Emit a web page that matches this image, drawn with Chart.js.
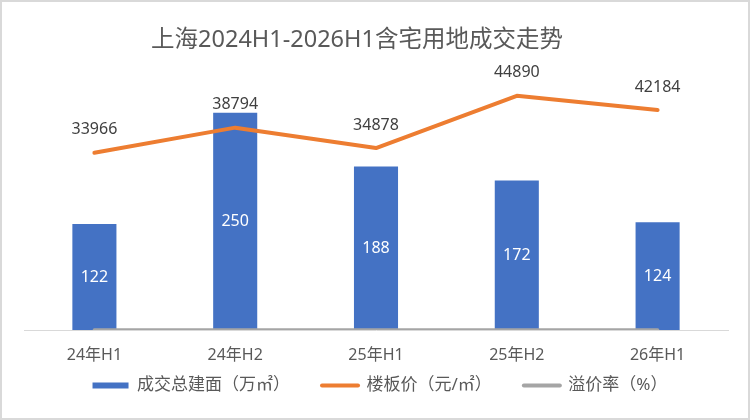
<!DOCTYPE html>
<html>
<head>
<meta charset="utf-8">
<script src="https://cdn.jsdelivr.net/npm/chart.js@4/dist/chart.umd.min.js"></script>
<style>
  html, body { margin: 0; padding: 0; background: #ffffff; }
  #wrap { width: 752px; height: 420px; }
</style>
</head>
<body>
<div id="wrap"><canvas id="c" width="752" height="420"></canvas></div>
<script>
const categories = ['24年H1', '24年H2', '25年H1', '25年H2', '26年H1'];
const areaValues = [122, 250, 188, 172, 124];          // 成交总建面（万㎡）
const priceValues = [33966, 38794, 34878, 44890, 42184]; // 楼板价（元/㎡）
const premiumValues = [4.5, 9.8, 22.1, 18.6, 12.3];      // 溢价率（%）
const seriesNames = ['成交总建面（万㎡）', '楼板价（元/㎡）', '溢价率（%）'];
const titleText = '上海2024H1-2026H1含宅用地成交走势';

const FONT = "'Noto Sans', 'Noto Sans CJK SC', sans-serif";
Chart.defaults.font.family = FONT;
Chart.defaults.color = '#595959';

const LEGEND_FIT_HEIGHT = 34;
const LEGEND_SHIFT = 35;

const labelPlugin = {
  id: 'valueLabels',
  afterDatasetsDraw(chart) {
    const ctx = chart.ctx;
    ctx.save();
    ctx.font = "16px " + FONT;
    ctx.textAlign = 'center';
    ctx.textBaseline = 'middle';
    const barMeta = chart.getDatasetMeta(0);
    barMeta.data.forEach((el, i) => {
      ctx.fillStyle = '#ffffff';
      ctx.fillText(String(areaValues[i]), el.x, (el.y + el.base) / 2);
    });
    const lineMeta = chart.getDatasetMeta(1);
    lineMeta.data.forEach((el, i) => {
      ctx.fillStyle = '#404040';
      ctx.fillText(String(priceValues[i]), el.x, el.y - 23);
    });
    ctx.restore();
  }
};

const framePlugin = {
  id: 'frame',
  beforeLayout(chart) {
    const lg = chart.legend;
    if (lg && !lg._fitWrapped) {
      const origFit = lg.fit;
      lg.fit = function () { origFit.call(this); this.height = LEGEND_FIT_HEIGHT; };
      lg._fitWrapped = true;
    }
  },
  afterLayout(chart) {
    const t = chart.titleBlock;
    if (t) { t.right -= 38; t.width -= 38; }
    const lg = chart.legend;
    if (lg) { lg.top -= LEGEND_SHIFT; lg.height += LEGEND_SHIFT; lg.left += 4; lg.right += 4; }
  },
  afterDraw(chart) {
    const ctx = chart.ctx;
    ctx.save();
    ctx.strokeStyle = '#d9d9d9';
    ctx.lineWidth = 2;
    ctx.strokeRect(1, 1, 748, 418);
    ctx.restore();
  }
};

new Chart(document.getElementById('c'), {
  data: {
    labels: categories,
    datasets: [
      {
        type: 'bar',
        label: seriesNames[0],
        data: areaValues,
        backgroundColor: '#4472C4',
        yAxisID: 'y',
        order: 3,
        barPercentage: 0.313,
        categoryPercentage: 1
      },
      {
        type: 'line',
        label: seriesNames[1],
        data: priceValues,
        borderColor: '#ED7D31',
        backgroundColor: '#ED7D31',
        borderWidth: 4,
        pointRadius: 0,
        tension: 0,
        borderCapStyle: 'round',
        borderJoinStyle: 'round',
        yAxisID: 'y1',
        order: 1
      },
      {
        type: 'line',
        label: seriesNames[2],
        data: premiumValues,
        borderColor: '#A5A5A5',
        backgroundColor: '#A5A5A5',
        borderWidth: 3.5,
        pointRadius: 0,
        tension: 0,
        borderCapStyle: 'round',
        borderJoinStyle: 'round',
        yAxisID: 'y1',
        order: 2
      }
    ]
  },
  options: {
    responsive: false,
    animation: false,
    devicePixelRatio: 1,
    layout: { padding: { top: 0, left: 24, right: 24, bottom: 6 } },
    scales: {
      x: {
        grid: { display: false, drawTicks: false },
        border: { display: true, color: '#d9d9d9', width: 1 },
        ticks: { padding: 15.4, color: '#595959', font: { size: 16, family: FONT } }
      },
      y: { display: false, min: 0, max: 300 },
      y1: { display: false, min: 0, max: 50000, position: 'right' }
    },
    plugins: {
      tooltip: { enabled: false },
      title: {
        display: true,
        text: titleText,
        color: '#595959',
        font: { size: 23.5, weight: 'normal', family: FONT },
        padding: { top: 26, bottom: 15 }
      },
      legend: {
        display: true,
        position: 'bottom',
        labels: {
          usePointStyle: true,
          pointStyleWidth: 36,
          boxHeight: 6,
          padding: 32,
          color: '#595959',
          font: { size: 17, family: FONT },
          generateLabels(chart) {
            return chart.data.datasets.map((ds, i) => ({
              text: ds.label,
              fillStyle: ds.type === 'bar' ? ds.backgroundColor : ds.borderColor,
              strokeStyle: ds.type === 'bar' ? ds.backgroundColor : ds.borderColor,
              lineWidth: ds.type === 'bar' ? 0 : 4,
              lineCap: 'round',
              pointStyle: ds.type === 'bar' ? 'rect' : 'line',
              fontColor: '#595959',
              hidden: !chart.isDatasetVisible(i),
              datasetIndex: i
            }));
          }
        }
      }
    }
  },
  plugins: [labelPlugin, framePlugin]
});
</script>
</body>
</html>
